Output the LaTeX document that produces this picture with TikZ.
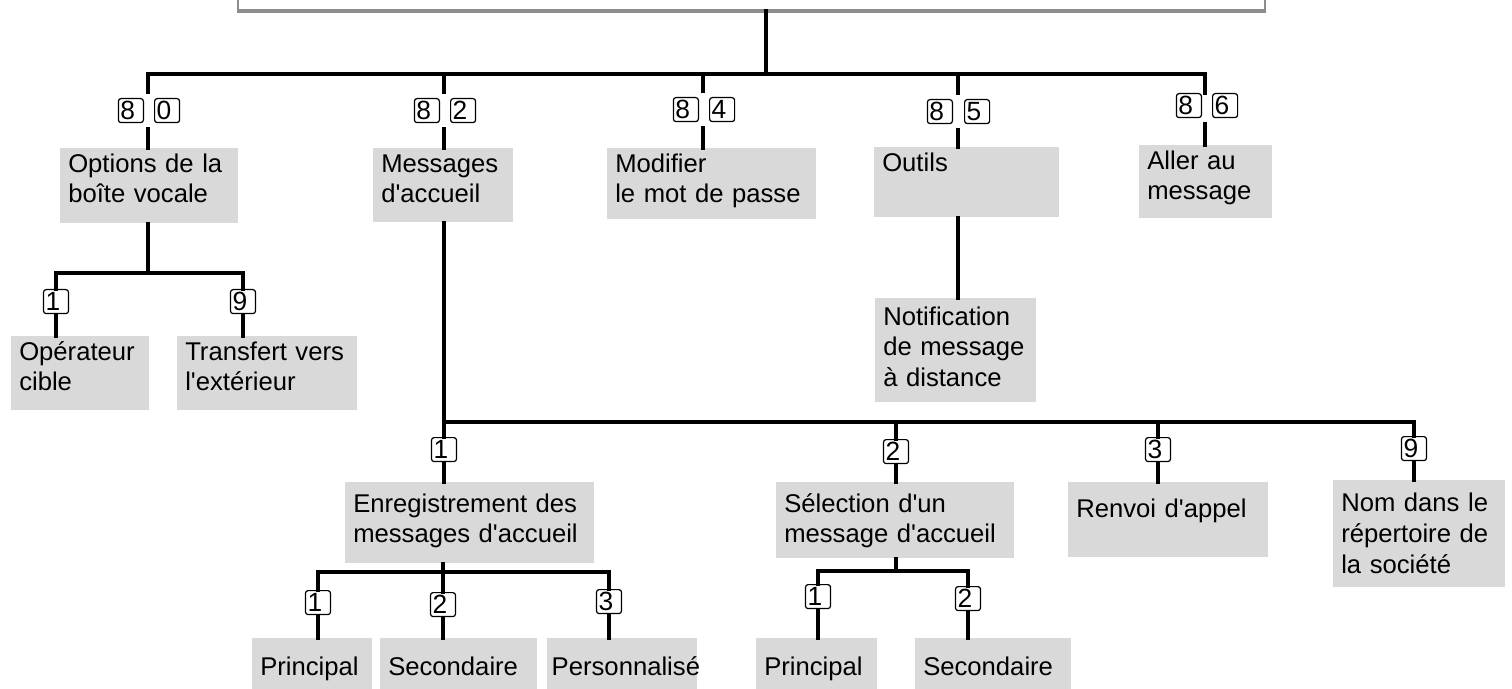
\documentclass[tikz,border=0pt]{standalone}
\usepackage{fontspec}
\setmainfont{Liberation Sans}[Ligatures=TeXOff]
\definecolor{menugray}{RGB}{217,217,217}
\definecolor{framegray}{RGB}{140,140,140}
\tikzset{
  menu/.style={fill=menugray, anchor=north west, align=left, inner xsep=4.5pt, inner ysep=3pt,
    text height=10.5pt, font=\fontsize{14.6}{17.5}\selectfont},
  key/.style={draw, rounded corners=1.5pt, line width=0.7pt, text width=0.42cm, inner xsep=0.04cm,
    inner ysep=0pt, minimum height=0.48cm, align=left, font=\fontsize{15}{15}\selectfont},
  link/.style={line width=1.9pt, line cap=rect},
  bar/.style={line width=2.8pt},
}
\begin{document}
\begin{tikzpicture}[x=0.02cm, y=-0.02cm]
        \useasboundingbox (0,0) rectangle (1512,689);

        \node[draw=framegray, line width=1pt, fill=white, anchor=south west, minimum width=20.54cm,
          minimum height=0.8cm, inner sep=0pt] (main) at (237,11) {};
        \draw[framegray, line width=2.2pt] (main.south west) -- (main.south east);

        \coordinate (trunk) at (766,74);
        \coordinate (t80) at (148,74);
        \coordinate (t82) at (444,74);
        \coordinate (t84) at (703,74);
        \coordinate (t85) at (958,74);
        \coordinate (t86) at (1205,74);
        \draw[link] (main.south -| trunk) -- (trunk);
        \draw[bar] (t80) -- (t86);

        \node[key, anchor=north east] (k80a) at (144,98) {8};
        \node[key, anchor=north west] (k80b) at (154,98) {0};
        \node[key, anchor=north east] (k82a) at (440,98) {8};
        \node[key, anchor=north west] (k82b) at (450,98) {2};
        \node[key, anchor=north east] (k84a) at (699,97) {8};
        \node[key, anchor=north west] (k84b) at (709,97) {4};
        \node[key, anchor=north east] (k85a) at (953,99) {8};
        \node[key, anchor=north west] (k85b) at (964,99) {5};
        \node[key, anchor=north east] (k86a) at (1202,93) {8};
        \node[key, anchor=north west] (k86b) at (1212,93) {6};

        \node[menu, text width=3.244cm, text depth=26.2pt] (opts) at (60,148) {Options de la\\boîte vocale};
        \node[menu, text width=2.484cm, text depth=25.6pt] (msg) at (373,148) {Messages\\d'accueil};
        \node[menu, text width=3.864cm, text depth=23.9pt] (pwd) at (607,148) {Modifier\\le mot de passe};
        \node[menu, text width=3.384cm, text depth=23.3pt] (tools) at (874,147) {Outils};
        \node[menu, text width=2.344cm, text depth=25.0pt] (goto) at (1139,145) {Aller au\\message};

        \draw[link, shorten >=3pt] (t80) -- (t80 |- k80a.north);
        \draw[link, shorten <=3pt] (t80 |- k80a.south) -- (t80 |- opts.north);
        \draw[link, shorten >=3pt] (t82) -- (t82 |- k82a.north);
        \draw[link, shorten <=3pt] (t82 |- k82a.south) -- (t82 |- msg.north);
        \draw[link, shorten >=3pt] (t84) -- (t84 |- k84a.north);
        \draw[link, shorten <=3pt] (t84 |- k84a.south) -- (t84 |- pwd.north);
        \draw[link, shorten >=3pt] (t85) -- (t85 |- k85a.north);
        \draw[link, shorten <=3pt] (t85 |- k85a.south) -- (t85 |- tools.north);
        \draw[link] (t86) -- (t86 |- k86a.north);
        \draw[link, shorten <=3pt] (t86 |- k86a.south) -- (t86 |- goto.north);

        \coordinate (j0) at (148,273);
        \node[key, anchor=north] (o1) at (56,289) {1};
        \node[key, anchor=north] (o9) at (243,289) {9};
        \node[menu, text width=2.444cm, text depth=25.6pt] (op) at (11,336) {Opérateur\\cible};
        \node[menu, text width=3.284cm, text depth=25.6pt] (ext) at (177,336) {Transfert vers\\l'extérieur};
        \draw[link] (opts.south -| j0) -- (j0);
        \draw[link] (o1.north) |- (j0) -| (o9.north);
        \draw[link] (o1.south) -- (o1.south |- op.north);
        \draw[link] (o9.south) -- (o9.south |- ext.north);

        \node[menu, text width=2.904cm, text height=12.2pt, text depth=41pt] (notif) at (875,298)
          {Notification\\de message\\à distance};
        \draw[link] (tools.south -| t85) -- (t85 |- notif.north);

        \coordinate (j2) at (444,422);
        \node[key, anchor=north] (m1) at (444,437) {1};
        \node[key, anchor=north] (m2) at (896,439) {2};
        \node[key, anchor=north] (m3) at (1158,437) {3};
        \node[key, anchor=north] (m9) at (1414,436) {9};
        \node[menu, text width=4.664cm, text height=13.9pt, text depth=26.2pt] (rec) at (345,482)
          {Enregistrement des\\messages d'accueil};
        \node[menu, text width=4.444cm, text height=13.9pt, text depth=23.3pt] (sel) at (776,482)
          {Sélection d'un\\message d'accueil};
        \node[menu, text width=3.684cm, text height=16.8pt, text depth=19.9pt] (fwd) at (1068,482) {Renvoi d'appel};
        \node[menu, text width=3.124cm, text height=15pt, text depth=39.8pt] (dir) at (1333,480)
          {Nom dans le\\répertoire de\\la société};
        \draw[link] (msg.south -| j2) -- (j2) -| (m9.north);
        \draw[link] (m1.north |- j2) -- (m1.north);
        \draw[link] (m2.north |- j2) -- (m2.north);
        \draw[link] (m3.north |- j2) -- (m3.north);
        \draw[link] (m1.south) -- (m1.south |- rec.north);
        \draw[link] (m2.south) -- (m2.south |- sel.north);
        \draw[link] (m3.south) -- (m3.south |- fwd.north);
        \draw[link] (m9.south) -- (m9.south |- dir.north);

        \coordinate (j3) at (443,572);
        \node[key, anchor=north] (r1) at (318,590) {1};
        \node[key, anchor=north] (r2) at (443,592) {2};
        \node[key, anchor=north] (r3) at (609,589) {3};
        \node[menu, text width=2.084cm, text height=17.9pt, text depth=7.4pt] (main1) at (252,638) {Principal};
        \node[menu, text width=2.824cm, text height=17.9pt, text depth=7.4pt] (second1) at (380,638) {Secondaire};
        \node[menu, text width=2.82cm, inner xsep=2.5pt, text height=17.9pt, text depth=7.4pt] (perso) at (547,638)
          {Personnalisé};
        \draw[link] (rec.south -| j3) -- (j3);
        \draw[link] (r1.north) |- (j3) -| (r3.north);
        \draw[link] (r2.north |- j3) -- (r2.north);
        \draw[link] (r1.south) -- (r1.south |- main1.north);
        \draw[link] (r2.south) -- (r2.south |- second1.north);
        \draw[link] (r3.south) -- (r3.south |- perso.north);

        \coordinate (j4) at (896,571);
        \node[key, anchor=north] (q1) at (818,584) {1};
        \node[key, anchor=north] (q2) at (968,586) {2};
        \node[menu, text width=2.104cm, text height=17.9pt, text depth=7.4pt] (main2) at (756,638) {Principal};
        \node[menu, text width=2.804cm, text height=17.9pt, text depth=7.4pt] (second2) at (915,638) {Secondaire};
        \draw[link] (sel.south -| j4) -- (j4);
        \draw[link] (q1.north) |- (j4) -| (q2.north);
        \draw[link] (q1.south) -- (q1.south |- main2.north);
        \draw[link] (q2.south) -- (q2.south |- second2.north);
\end{tikzpicture}
\end{document}
